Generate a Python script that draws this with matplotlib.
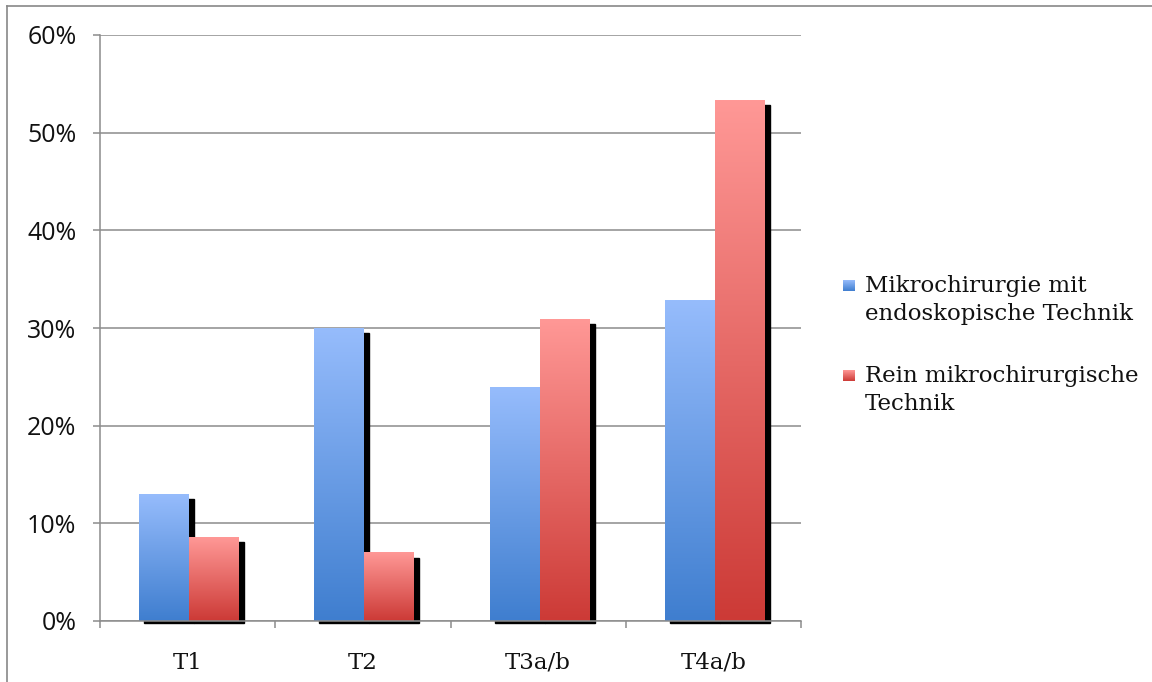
import numpy as np
import matplotlib
matplotlib.use('Agg')
import matplotlib.pyplot as plt
from matplotlib.colors import LinearSegmentedColormap
from matplotlib.patches import Rectangle
from matplotlib.lines import Line2D

# data (percent)
categories = ['T1', 'T2', 'T3a/b', 'T4a/b']
endo = [13.0, 30.0, 23.9, 32.8]
rein = [8.6, 7.0, 30.9, 53.3]
series_names = ['Mikrochirurgie mit\nendoskopische Technik',
                'Rein mikrochirurgische\nTechnik']
yticks = [0, 10, 20, 30, 40, 50, 60]

blue_cmap = LinearSegmentedColormap.from_list('b', ['#3F7ECF', '#96BCFC'])
red_cmap = LinearSegmentedColormap.from_list('r', ['#CC3A36', '#FF9896'])
cmaps = [blue_cmap, red_cmap]

W, H = 1152, 682
fig = plt.figure(figsize=(W / 100, H / 100), dpi=100)
# outer chart border
fig.add_artist(Line2D([7 / W, 7 / W], [0, 1 - 6 / H], transform=fig.transFigure, color='#888888', lw=1.2))
fig.add_artist(Line2D([7 / W, 1], [1 - 6 / H, 1 - 6 / H], transform=fig.transFigure, color='#888888', lw=1.2))

ax_l, ax_r, ax_t, ax_b = 100, 801, 35, 621
ax = fig.add_axes([ax_l / W, 1 - ax_b / H, (ax_r - ax_l) / W, (ax_b - ax_t) / H])

bw = 0.285
# px -> data unit helpers for the shadow
px_x = 4 / (ax_r - ax_l)
px_y = 60 / (ax_b - ax_t)
grad = np.linspace(0, 1, 256).reshape(-1, 1)

for i in range(len(categories)):
    c = i + 0.5 + 1.5 * px_x
    for j, vals in enumerate([endo, rein]):
        x0 = c - bw + j * bw
        v = vals[i]
        # black drop shadow behind the bar
        ax.add_patch(Rectangle((x0 + 5 * px_x, -2 * px_y), bw, v - 3 * px_y,
                               color='black', zorder=2, clip_on=False))
        ax.imshow(grad, extent=[x0, x0 + bw, 0, v], origin='lower', aspect='auto',
                  cmap=cmaps[j], zorder=3 + j, interpolation='bilinear')

ax.set_xlim(0, 4)
ax.set_ylim(0, 60)
ax.set_yticks(yticks)
ax.set_yticklabels([f'{t}%' for t in yticks], fontsize=18, family='Open Sans', color='#111111')
ax.yaxis.grid(True, color='#8C8C8C', lw=1.1)
ax.set_axisbelow(True)
ax.set_xticks(np.arange(0, 5))
ax.set_xticklabels([])
ax.set_xticks(np.arange(0.5, 4), minor=True)
ax.set_xticklabels(categories, minor=True, fontsize=16.5, family='DejaVu Serif', color='#111111')
ax.tick_params(axis='x', which='minor', length=0, pad=22)
ax.tick_params(axis='x', which='major', length=5, color='#8C8C8C', width=1.1)
ax.tick_params(axis='y', length=5, color='#8C8C8C', width=1.1, pad=12)
for s in ['top', 'right']:
    ax.spines[s].set_visible(False)
for s in ['left', 'bottom']:
    ax.spines[s].set_color('#8C8C8C')
    ax.spines[s].set_linewidth(1.1)
    ax.spines[s].set_zorder(6)

# legend: gradient squares next to the first text line, like Excel
leg_y = [300, 390]
for j, name in enumerate(series_names):
    sq = fig.add_axes([843 / W, 1 - (leg_y[j] - 9) / H, 11 / W, 11 / H])
    sq.imshow(grad, origin='lower', aspect='auto', cmap=cmaps[j], extent=[0, 1, 0, 1])
    sq.set_axis_off()
    fig.text(865 / W, 1 - leg_y[j] / H, name, va='center', ha='left',
             fontsize=16.5, family='DejaVu Serif', linespacing=1.35, color='#111111')

fig.savefig('out.png', dpi=100)
